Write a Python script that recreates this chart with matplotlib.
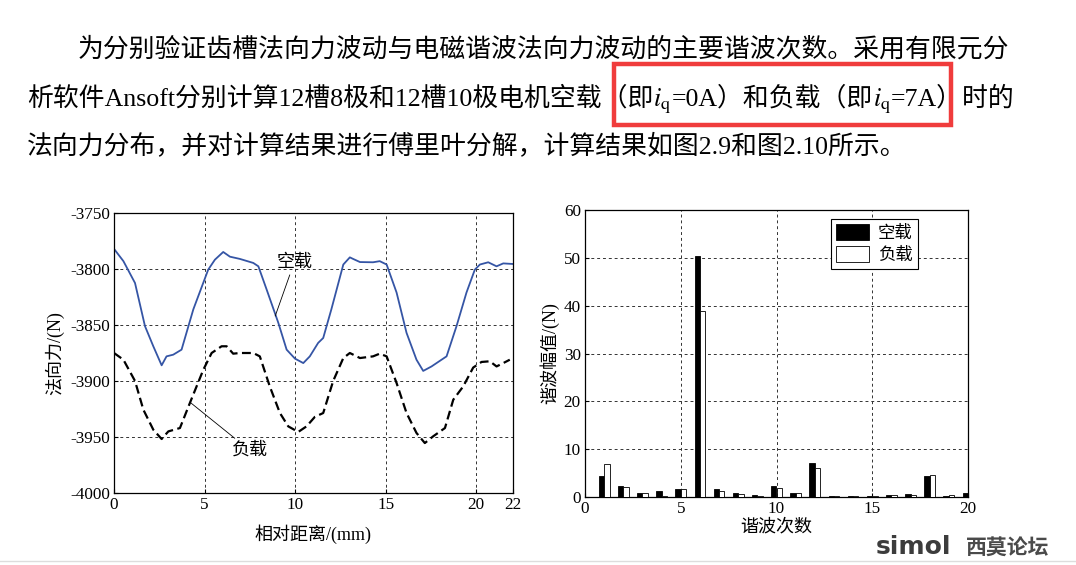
import matplotlib
matplotlib.use('Agg')
import matplotlib.pyplot as plt
from matplotlib.patches import Rectangle

plt.rcParams['font.family'] = ['Liberation Serif', 'Noto Sans CJK SC']
plt.rcParams['mathtext.fontset'] = 'stix'
plt.rcParams['axes.unicode_minus'] = False

# ---- data ----
# left: normal force along the tooth (no load / load)
noload_x = [0, 0.52, 1.16, 1.71, 2.17, 2.63, 2.9, 3.27, 3.73, 4.38, 5.2, 5.57, 6.03, 6.4,
            6.95, 7.69, 7.97, 8.43, 9.07, 9.53, 9.99, 10.45, 10.81, 11.27, 11.55, 12.0,
            12.66, 13.02, 13.2, 13.58, 14.3, 14.67, 15.05, 15.6, 16.15, 16.7, 17.07, 17.53,
            17.99, 18.36, 18.91, 19.46, 19.92, 20.2, 20.66, 21.12, 21.49, 22]
noload_force = [-3782, -3793, -3812.5, -3851, -3869, -3886, -3878, -3876.5, -3872, -3836,
                -3800.6, -3791.7, -3784.8, -3789, -3791, -3794.6, -3797.6, -3818.5, -3848,
                -3872, -3880, -3884, -3878, -3866, -3861.6, -3836, -3796, -3789.6, -3791,
                -3793.8, -3794, -3793, -3796, -3821, -3857, -3881, -3891, -3887, -3882,
                -3878, -3851, -3821, -3800.6, -3796, -3794, -3797.6, -3795, -3795.5]
load_x = [0, 0.52, 1.16, 1.62, 2.17, 2.63, 3.0, 3.64, 4.19, 4.93, 5.39, 5.94, 6.22, 6.58,
          6.95, 7.69, 8.05, 8.6, 9.16, 9.62, 10.17, 10.63, 11.09, 11.55, 12.1, 12.66, 13.02,
          13.58, 14.3, 14.67, 15.05, 15.6, 16.15, 16.7, 17.16, 17.62, 18.27, 18.73, 19.28,
          19.83, 20.29, 20.75, 21.12, 21.49, 21.85]
load_force = [-3875, -3881, -3900, -3925.6, -3943.5, -3951.8, -3945, -3942, -3919.6, -3890,
              -3875, -3869, -3869, -3875.6, -3875, -3875, -3878, -3904.8, -3928.6, -3940.5,
              -3945.5, -3940.5, -3932, -3928.6, -3900, -3879.5, -3875, -3879.5, -3878,
              -3875.6, -3878, -3901.8, -3928.6, -3946.4, -3955.4, -3949.4, -3942, -3916.7,
              -3904.8, -3888, -3883, -3882.4, -3887, -3884, -3881]

# right: harmonic amplitudes
harmonic_order = list(range(1, 21))
noload_amp = [4.45, 2.37, 0.84, 1.32, 1.74, 50.3, 1.74, 0.77, 0.49, 2.23,
              0.84, 7.17, 0.28, 0.28, 0.28, 0.49, 0.7, 4.45, 0.28, 0.77]
load_amp = [6.9, 2.16, 0.84, 0.28, 1.67, 38.8, 1.25, 0.63, 0.14, 1.95,
            0.84, 6.12, 0.28, 0.28, 0.14, 0.35, 0.49, 4.6, 0.49, 0.5]

left_xticks = [0, 5, 10, 15, 20, 22]
left_yticks = [-4000, -3950, -3900, -3850, -3800, -3750]
right_xticks = [0, 5, 10, 15, 20]
right_yticks = [0, 10, 20, 30, 40, 50, 60]

line1 = "为分别验证齿槽法向力波动与电磁谐波法向力波动的主要谐波次数。采用有限元分"
line2 = ["析软件Ansoft分别计算12槽8极和12槽10极电机空载（即", r"$i_{\mathrm{q}}$",
         "=0A）和负载（即", r"$i_{\mathrm{q}}$", "=7A）时的"]
line3 = "法向力分布，并对计算结果进行傅里叶分解，计算结果如图2.9和图2.10所示。"

W, H = 1076, 565
fig = plt.figure(figsize=(W / 100, H / 100), dpi=100)

# background layer for the page text
bg = fig.add_axes([0, 0, 1, 1])
bg.set_axis_off()
bg.set_xlim(0, W)
bg.set_ylim(H, 0)

body = 18.6
bg.text(78, 57, line1, fontsize=body, va='baseline', ha='left')
prev = bg.text(27, 106, line2[0], fontsize=body, va='baseline', ha='left')
for piece in line2[1:]:
    prev = bg.annotate(piece, xy=(1, H - 106), xycoords=(prev, 'figure pixels'),
                       fontsize=body, va='baseline', ha='left', annotation_clip=False)
bg.text(27, 153, line3, fontsize=body, va='baseline', ha='left')

# red highlight box
bg.add_patch(Rectangle((614, 64), 337, 61, fill=False, edgecolor='#f03c3c', lw=3.2))

# watermark + bottom rule
bg.text(876, 547, 'simol', fontsize=18, fontweight='bold', color='#3c3c3c',
        family='DejaVu Sans', va='center', ha='left')
bg.text(966, 547, '西莫论坛', fontsize=15, fontweight='bold', color='#4a4a4a',
        family='Noto Sans CJK SC', va='center', ha='left')
bg.plot([0, W], [561, 561], color='#dddddd', lw=1)

grid_style = dict(ls=(0, (3, 3)), color='#333333', lw=0.7)

# ---- left chart ----
ax1 = fig.add_axes([114 / W, 1 - 493 / H, 398.5 / W, 280 / H])
ax1.plot(noload_x, noload_force, color='#3555a5', lw=1.3)
ax1.plot(load_x, load_force, color='black', lw=1.6, ls=(0, (4, 2)))
ax1.set_xlim(0, 22)
ax1.set_ylim(-4000, -3750)
ax1.set_xticks(left_xticks)
ax1.set_yticks(left_yticks)
ax1.grid(True, **grid_style)
ax1.tick_params(direction='in', length=3, labelsize=12.3, pad=3)
ax1.set_xlabel('相对距离/(mm)', fontsize=13, labelpad=8)
ax1.set_ylabel('法向力/(N)', fontsize=13, labelpad=4)
ax1.annotate('空载', xy=(8.9, -3842), xytext=(9.95, -3794), fontsize=13,
             ha='center', va='center',
             arrowprops=dict(arrowstyle='-', color='black', lw=0.6, shrinkA=1, shrinkB=0))
ax1.annotate('负载', xy=(4.2, -3919), xytext=(7.5, -3962), fontsize=13,
             ha='center', va='center',
             arrowprops=dict(arrowstyle='-', color='black', lw=0.6, shrinkA=1, shrinkB=0))

# ---- right chart ----
ax2 = fig.add_axes([585 / W, 1 - 497 / H, 383 / W, 287 / H])
ax2.bar([h - 0.14 for h in harmonic_order], noload_amp, width=0.28,
        color='black', edgecolor='black', lw=0.6, label='空载', zorder=3)
ax2.bar([h + 0.14 for h in harmonic_order], load_amp, width=0.28,
        color='white', edgecolor='black', lw=0.6, label='负载', zorder=3)
ax2.set_xlim(0, 20)
ax2.set_ylim(0, 60)
ax2.set_xticks(right_xticks)
ax2.set_yticks(right_yticks)
ax2.grid(True, **grid_style)
ax2.set_axisbelow(True)
ax2.tick_params(direction='in', length=3, labelsize=12.3, pad=3)
ax2.set_xlabel('谐波次数', fontsize=13, labelpad=1)
ax2.set_ylabel('谐波幅值/(N)', fontsize=13, labelpad=3)
leg = ax2.legend(loc='upper right', bbox_to_anchor=(0.869, 0.969), fontsize=12.5,
                 fancybox=False, edgecolor='black', framealpha=1,
                 handlelength=1.9, handleheight=1.0, borderpad=0.3,
                 labelspacing=0.25, handletextpad=0.5, borderaxespad=0)
leg.get_frame().set_linewidth(0.8)

for ax in (ax1, ax2):
    for s in ax.spines.values():
        s.set_linewidth(0.9)

fig.savefig('out.png', dpi=100)
